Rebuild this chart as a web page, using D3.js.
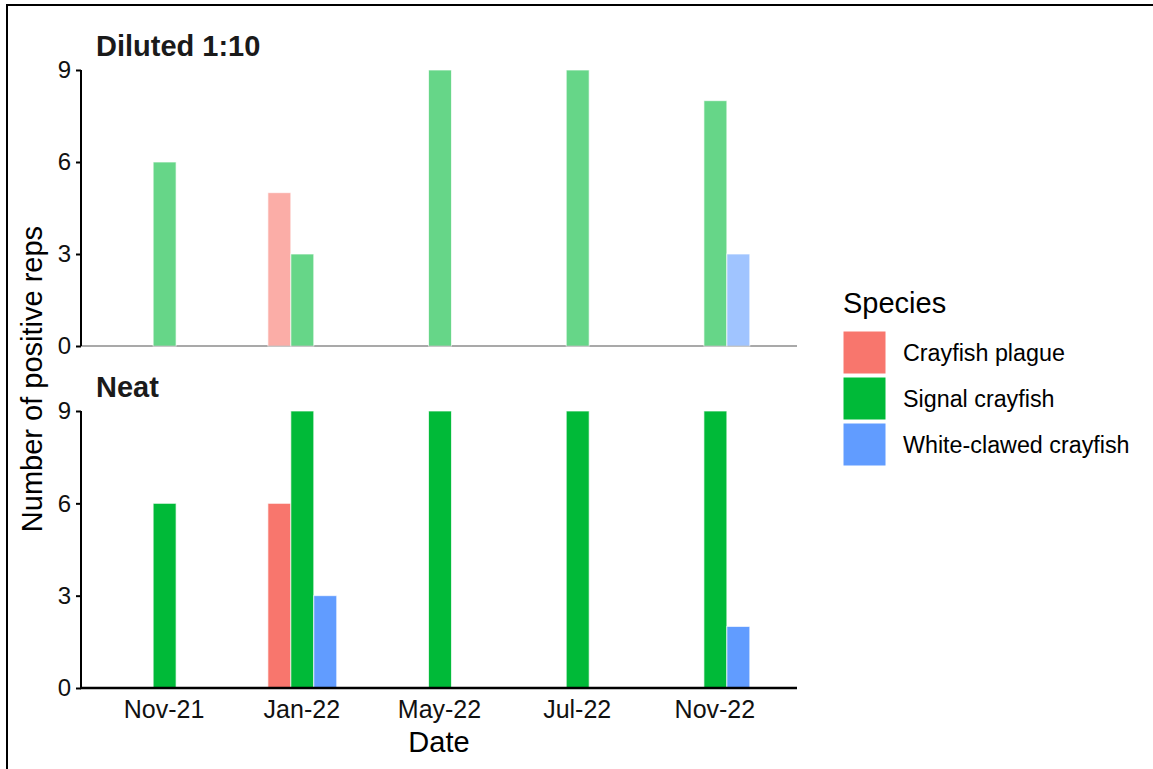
<!DOCTYPE html>
<html>
<head>
<meta charset="utf-8">
<script src="https://cdn.jsdelivr.net/npm/d3@7"></script>
<style>
  body { margin: 0; background: #fff; }
  text { font-family: "Liberation Sans", Arial, sans-serif; }
</style>
</head>
<body>
<div id="container"></div>
<script>

/* DATA */
const dates = ["Nov-21", "Jan-22", "May-22", "Jul-22", "Nov-22"];
const species = ["Crayfish plague", "Signal crayfish", "White-clawed crayfish"];
const speciesColors = ["#F8766D", "#00BA38", "#619CFF"];
const yTicks = [0, 3, 6, 9];

// positive reps per date, one array per species
const dilutedPlague = [0, 5, 0, 0, 0];
const dilutedSignal = [6, 3, 9, 9, 8];
const dilutedWhite  = [0, 0, 0, 0, 3];

const neatPlague = [0, 6, 0, 0, 0];
const neatSignal = [6, 9, 9, 9, 9];
const neatWhite  = [0, 3, 0, 0, 2];

/* CONSTANTS */
const width = 1153,
  height = 769,
  plotLeft = 81,
  plotRight = 797;

const panels = [
  { label: "Diluted 1:10", series: [dilutedPlague, dilutedSignal, dilutedWhite], top: 70, bottom: 346, alpha: 0.6, axisColor: "#8c8c8c" },
  { label: "Neat", series: [neatPlague, neatSignal, neatWhite], top: 411, bottom: 688, alpha: 1, axisColor: "#000" }
];

// CREATE SVG ELEMENT
const svg = d3.select("#container")
  .append("svg")
  .attr("width", width)
  .attr("height", height);

// outer frame (right/bottom edges fall outside the picture)
svg.append("rect")
  .attr("x", 7).attr("y", 5)
  .attr("width", width + 10).attr("height", height + 10)
  .attr("fill", "none")
  .attr("stroke", "#000")
  .attr("stroke-width", 2);

// SCALES
const xScale = d3.scalePoint()
  .domain(dates)
  .range([plotLeft, plotRight])
  .padding(0.6);

const slot = xScale.step() * 0.5 / species.length;

const colorScale = d3.scaleOrdinal()
  .domain(species)
  .range(speciesColors);

panels.forEach((p, pi) => {
  const yScale = d3.scaleLinear()
    .domain([0, 9])
    .range([p.bottom, p.top]);

  const g = svg.append("g");

  // flatten the series into bars
  const bars = [];
  p.series.forEach((vals, si) => {
    vals.forEach((v, di) => {
      if (v > 0) bars.push({ date: dates[di], sp: species[si], si: si, value: v });
    });
  });

  // x axis line (top panel: under translucent bars)
  if (pi === 0) {
    g.append("line")
      .attr("x1", plotLeft).attr("x2", plotRight)
      .attr("y1", p.bottom).attr("y2", p.bottom)
      .attr("stroke", p.axisColor)
      .attr("stroke-width", 1.5);
  }

  // DRAW BARS
  g.selectAll("rect.bar")
    .data(bars)
    .join("rect")
    .attr("class", "bar")
    .attr("x", d => xScale(d.date) + (d.si - 1) * slot - slot / 2 + 1)
    .attr("width", slot)
    .attr("y", d => yScale(d.value))
    .attr("height", d => yScale(0) - yScale(d.value))
    .attr("fill", d => colorScale(d.sp))
    .attr("fill-opacity", p.alpha)
    .attr("stroke", "#fff")
    .attr("stroke-opacity", 0.7)
    .attr("stroke-width", 1);

  // Y AXIS
  const yAxis = g.append("g")
    .attr("transform", `translate(${plotLeft},0)`)
    .call(d3.axisLeft(yScale).tickValues(yTicks).tickSize(5).tickPadding(5));
  yAxis.select(".domain")
    .attr("d", `M0,${p.top}V${p.bottom}`)
    .attr("stroke", "#000")
    .attr("stroke-width", 2);
  yAxis.selectAll(".tick line").attr("stroke", "#000").attr("stroke-width", 2);
  yAxis.selectAll(".tick text")
    .attr("font-size", 24)
    .attr("fill", "#111")
    .attr("font-family", "Liberation Sans, Arial, sans-serif");

  // bottom panel x axis
  if (pi === 1) {
    g.append("line")
      .attr("x1", plotLeft - 1).attr("x2", plotRight)
      .attr("y1", p.bottom).attr("y2", p.bottom)
      .attr("stroke", "#000")
      .attr("stroke-width", 2.5);

    const xAxis = g.append("g")
      .attr("transform", `translate(0,${p.bottom})`)
      .call(d3.axisBottom(xScale).tickSize(0).tickPadding(12));
    xAxis.select(".domain").remove();
    xAxis.selectAll(".tick text")
      .attr("font-size", 25)
      .attr("fill", "#111")
      .attr("font-family", "Liberation Sans, Arial, sans-serif");
  }

  // panel label
  svg.append("text")
    .attr("x", 96)
    .attr("y", p.top - 14)
    .attr("font-size", 29)
    .attr("font-weight", "bold")
    .attr("fill", "#1a1a1a")
    .text(p.label);
});

// AXIS TITLES
svg.append("text")
  .attr("x", (plotLeft + plotRight) / 2)
  .attr("y", 752)
  .attr("text-anchor", "middle")
  .attr("font-size", 29)
  .attr("fill", "#000")
  .text("Date");

svg.append("text")
  .attr("transform", `translate(42,${(70 + 688) / 2}) rotate(-90)`)
  .attr("text-anchor", "middle")
  .attr("font-size", 29)
  .attr("fill", "#000")
  .text("Number of positive reps");

// LEGEND
const legend = svg.append("g").attr("transform", "translate(843,0)");

legend.append("text")
  .attr("x", 0)
  .attr("y", 313)
  .attr("font-size", 29)
  .attr("fill", "#000")
  .text("Species");

const keyH = 46;
legend.selectAll("rect.key")
  .data(species)
  .join("rect")
  .attr("class", "key")
  .attr("x", 0)
  .attr("y", (d, i) => 331 + i * keyH)
  .attr("width", 43)
  .attr("height", keyH - 3)
  .attr("fill", d => colorScale(d))
  .attr("stroke", "#fff")
  .attr("stroke-width", 1);

legend.selectAll("text.lab")
  .data(species)
  .join("text")
  .attr("class", "lab")
  .attr("x", 60)
  .attr("y", (d, i) => 331 + i * keyH + (keyH - 3) / 2)
  .attr("dy", "0.35em")
  .attr("font-size", 23.3)
  .attr("fill", "#000")
  .text(d => d);

</script>
</body>
</html>
